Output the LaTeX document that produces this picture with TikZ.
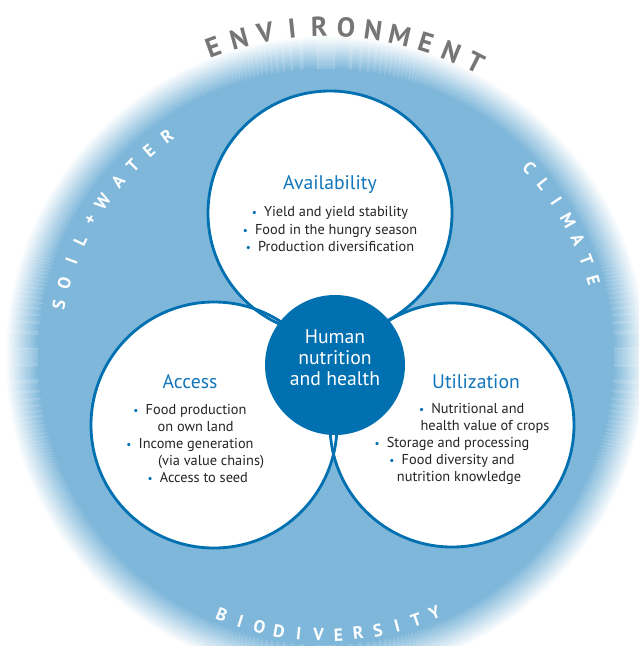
\documentclass[tikz,border=0pt]{standalone}
\usepackage{fontspec}
\setmainfont{PT Sans}

\definecolor{diskblue}{RGB}{126,183,218}
\definecolor{deepblue}{RGB}{0,112,176}
\definecolor{headblue}{RGB}{18,118,188}
\definecolor{bodygray}{RGB}{35,35,35}
\definecolor{rimgray}{RGB}{118,118,118}

\newcommand{\itemdot}{{\color{deepblue}\footnotesize\textbullet}\enspace}

\begin{document}
\begin{tikzpicture}[x=0.025cm, y=0.025cm,
    ring/.style={draw=deepblue, line width=2pt},
    heading/.style={text=headblue, font=\fontsize{14}{16}\selectfont},
    bullets/.style={align=center, text=bodygray, inner sep=0pt,
                    font=\fontsize{10.2}{12.1}\selectfont},
    hubtext/.style={align=center, text=white, inner sep=0pt,
                    font=\fontsize{14}{15}\selectfont},
    rimletter/.style={text=white, inner sep=0pt, font=\bfseries\fontsize{12.5}{13}\selectfont},
    envletter/.style={text=rimgray, inner sep=0pt, font=\bfseries\fontsize{19.5}{20}\selectfont}]

  \useasboundingbox (0,0) rectangle (639,-646);

  \coordinate (disk) at (326,-357);
  \coordinate (avail) at (330,-213);
  \coordinate (access) at (214,-425);
  \coordinate (util) at (452,-425);

  % background disk, its rim fading out to white
  \fill[diskblue] (disk) circle (288);
  \foreach \k in {0,...,32}
    \draw[diskblue!\fpeval{round(100-3.03*\k)}!white, line width=0.03cm] (disk) circle (288+\k);

  % words around the rim, one letter at a time
  \foreach \ch [count=\i from 0, evaluate=\i as \a using 110-4.7*\i] in {E,N,V,I,R,O,N,M,E,N,T}
    \node[envletter, rotate=\a-90] at ([shift={(\a:330)}]disk) {\ch};
  \foreach \ch/\a in {S/169, O/164.2, I/159.4, L/154.6, +/149.8,
                      W/145.2, A/139.9, T/135.3, E/130.6, R/125.8}
    \node[rimletter, rotate=\a-90] at ([shift={(\a:272)}]disk) {\ch};
  \foreach \ch [count=\i from 0, evaluate=\i as \a using 43-4.5*\i] in {C,L,I,M,A,T,E}
    \node[rimletter, rotate=\a-90] at ([shift={(\a:278)}]disk) {\ch};
  \foreach \ch [count=\i from 0, evaluate=\i as \a using 248+4.09*\i] in {B,I,O,D,I,V,E,R,S,I,T,Y}
    \node[rimletter, rotate=\a+90] at ([shift={(\a:278)}]disk) {\ch};

  % the three dimensions
  \foreach \c/\r in {avail/122, access/123, util/122}
    \fill[white] (\c) circle (\r);
  \foreach \c/\r in {avail/122, access/123, util/122}
    \draw[ring] (\c) circle (\r);

  \fill[deepblue] (335,-365) coordinate (hub) circle (70);
  \node[hubtext] (hubtxt) at (335,-358) {Human\\nutrition\\and health};

  \node[heading] (availtitle) at (330,-185) {Availability};
  \node[bullets] (availlist) [below of=availtitle, node distance=1.1cm]
    {\itemdot Yield and yield stability\\
     \itemdot Food in the hungry season\\
     \itemdot Production diversification};

  \node[heading] (accesstitle) at (190,-382) {Access};
  \node[bullets] (accesslist) [below of=accesstitle, node distance=1.54cm]
    {\itemdot Food production\\
     \hspace*{8pt}on own land\\
     \itemdot Income generation\\
     \hspace*{30pt}(via value chains)\\
     \hspace*{11pt}\itemdot Access to seed};

  \node[heading] (utiltitle) at (476,-382) {Utilization};
  \node[bullets] (utillist) [below of=utiltitle, node distance=1.54cm, xshift=-0.6cm]
    {\hspace*{28pt}\itemdot Nutritional and\\
     \hspace*{47pt}health value of crops\\
     \itemdot Storage and processing\\
     \itemdot Food diversity and\\
     \hspace*{10pt}nutrition knowledge};
\end{tikzpicture}
\end{document}
